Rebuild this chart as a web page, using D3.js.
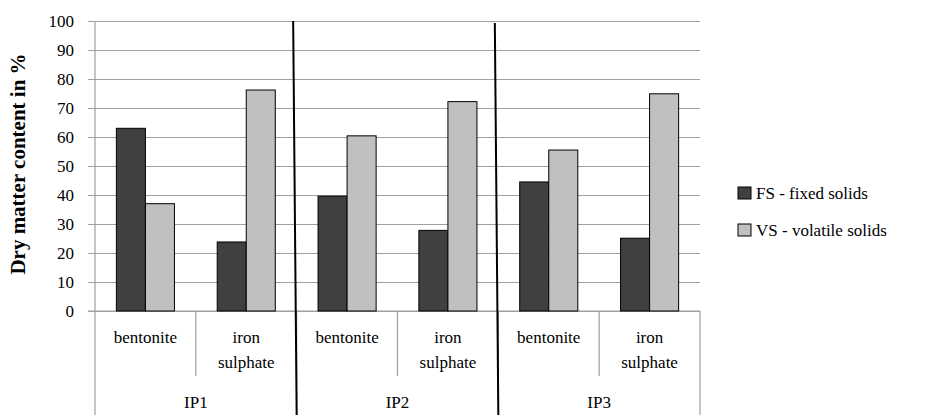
<!DOCTYPE html>
<html><head><meta charset="utf-8">
<script src="https://cdn.jsdelivr.net/npm/d3@7"></script>
<style>body{margin:0;background:#fff}svg{display:block}</style>
</head><body><svg id="c" width="943" height="415"></svg>
<script>
const groups = ["IP1","IP2","IP3"];
const additives = ["bentonite","iron sulphate"];
const additiveLines = [["bentonite"],["iron","sulphate"]];
const seriesNames = ["FS - fixed solids","VS - volatile solids"];
const fsValues = [63.0, 23.8, 39.6, 27.8, 44.5, 25.1];
const vsValues = [37.0, 76.2, 60.4, 72.2, 55.5, 74.9];
const yTicks = [0,10,20,30,40,50,60,70,80,90,100];
const colors = ["#404040","#c0c0c0"];

const FONT = "Liberation Serif";
const svg = d3.select("#c");
const L = 95, R = 700, T = 21, B = 311, BOT = 415;
const FS = 17;

function txt(sel){ return sel.append("text").attr("font-family",FONT).attr("fill","#000"); }

const y = d3.scaleLinear().domain([0,100]).range([B,T]);
const gx = d3.scaleBand().domain(groups).range([L,R]).padding(0);
const cats = [];
groups.forEach(g => additives.forEach(a => cats.push(g+"|"+a)));
const cx = d3.scaleBand().domain(cats).range([L,R]).padding(0);
const barW = cx.bandwidth()*0.288;

const yAxis = d3.axisLeft(y).tickValues(yTicks).tickSize(-(R-L+7)).tickPadding(0).tickFormat("");
const ga = svg.append("g").attr("transform",`translate(${L-7},0)`).call(yAxis);
ga.select(".domain").remove();
ga.selectAll(".tick line").attr("stroke","#a0a0a0").attr("stroke-width",1.2).attr("x1",0).attr("x2",R-L+7);

const tg = svg.append("g");
yTicks.forEach(d=>{
  txt(tg).attr("x",74).attr("y",y(d)+6)
    .attr("text-anchor","end").attr("font-size",FS).text(d);
});

const lineG = svg.append("g").attr("stroke","#a0a0a0").attr("stroke-width",1.2);
lineG.append("line").attr("x1",L).attr("x2",L).attr("y1",T).attr("y2",BOT);
lineG.append("line").attr("x1",R).attr("x2",R).attr("y1",B).attr("y2",BOT);
lineG.append("line").attr("x1",L-7).attr("x2",R).attr("y1",B).attr("y2",B);
groups.forEach(g=>{
  const xm = cx(g+"|"+additives[1]);
  lineG.append("line").attr("x1",xm).attr("x2",xm).attr("y1",B).attr("y2",376);
});
groups.slice(1).forEach(g=>{
  const xg = gx(g);
  lineG.append("line").attr("x1",xg).attr("x2",xg).attr("y1",B).attr("y2",BOT);
});

const data = [];
cats.forEach((c,i)=>{
  data.push({c, s:0, v:fsValues[i]});
  data.push({c, s:1, v:vsValues[i]});
});
svg.append("g").selectAll("rect").data(data).join("rect")
  .attr("x",d=>cx(d.c)+cx.bandwidth()/2 - barW + d.s*barW)
  .attr("width",barW)
  .attr("y",d=>y(d.v)).attr("height",d=>y(0)-y(d.v))
  .attr("fill",d=>colors[d.s]).attr("stroke","#000").attr("stroke-width",1);

cats.forEach((c,i)=>{
  const lines = additiveLines[i%2];
  const xc = cx(c)+cx.bandwidth()/2;
  lines.forEach((t,j)=>{
    txt(svg).attr("x",xc).attr("y",343+j*25)
      .attr("text-anchor","middle").attr("font-size",FS).text(t);
  });
});
groups.forEach(g=>{
  txt(svg).attr("x",gx(g)+gx.bandwidth()/2).attr("y",408)
    .attr("text-anchor","middle").attr("font-size",FS).text(g);
});

groups.slice(1).forEach((g,i)=>{
  const xg = gx(g);
  svg.append("line").attr("x1",xg-3.5).attr("x2",xg).attr("y1",T+i*2).attr("y2",BOT)
    .attr("stroke","#000").attr("stroke-width",2);
});

txt(svg).attr("transform",`translate(25,164) rotate(-90)`)
  .attr("text-anchor","middle").attr("font-size",21).attr("font-weight","bold").text("Dry matter content in %");

const lg = svg.append("g");
seriesNames.forEach((s,i)=>{
  const yy = 187 + i*37;
  lg.append("rect").attr("x",738).attr("y",yy).attr("width",13).attr("height",12)
    .attr("fill",colors[i]).attr("stroke","#000").attr("stroke-width",1);
  txt(lg).attr("x",756).attr("y",yy+12)
    .attr("font-size",FS).text(s);
});
</script></body></html>
